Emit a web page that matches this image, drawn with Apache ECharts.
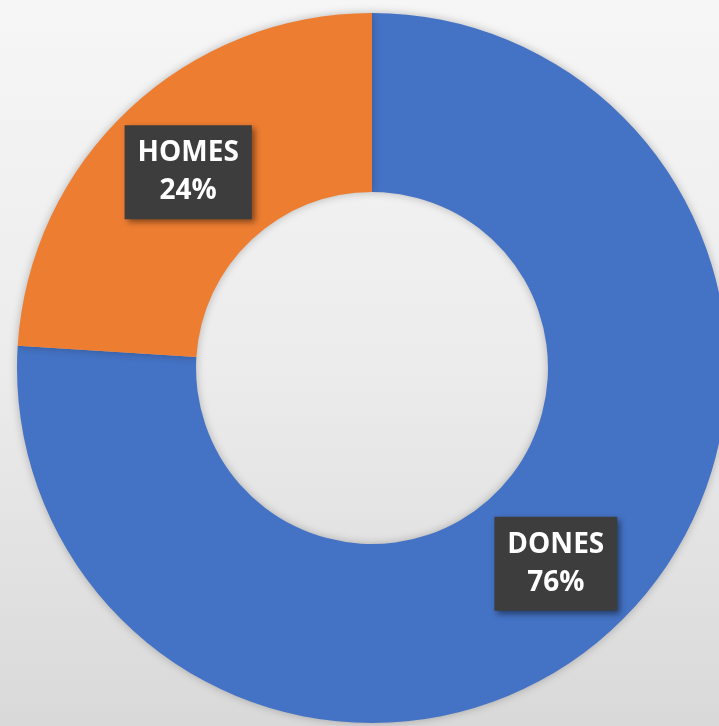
<!DOCTYPE html>
<html>
<head>
<meta charset="utf-8">
<script src="https://cdn.jsdelivr.net/npm/echarts@6/dist/echarts.min.js"></script>
<style>
  html, body { margin: 0; padding: 0; }
  #chart { width: 719px; height: 726px; }
</style>
</head>
<body>
<div id="chart"></div>
<script>
var categories = ['DONES', 'HOMES'];
var values = [76, 24];
var colors = ['#4472C4', '#ED7D31'];

var chart = echarts.init(document.getElementById('chart'));

var option = {
    backgroundColor: {
        type: 'linear', x: 0, y: 0, x2: 0, y2: 1,
        colorStops: [
            { offset: 0, color: '#f6f6f6' },
            { offset: 0.5, color: '#ececec' },
            { offset: 1, color: '#d9d9d9' }
        ]
    },
    color: colors,
    series: [
        {
            type: 'pie',
            center: [372, 368],
            radius: [176, 355],
            startAngle: 90,
            clockwise: true,
            avoidLabelOverlap: false,
            itemStyle: {
                shadowBlur: 8,
                shadowColor: 'rgba(0,0,0,0.25)'
            },
            label: {
                show: true,
                position: 'inside',
                formatter: function (p) {
                    return p.name + '\n' + Math.round(p.percent) + '%';
                },
                color: '#ffffff',
                fontFamily: 'Open Sans',
                fontWeight: 'bold',
                fontSize: 28,
                lineHeight: 38,
                backgroundColor: '#3d3d3d',
                padding: [10, 13, 8, 13],
                shadowBlur: 6,
                shadowOffsetX: 3,
                shadowOffsetY: 3,
                shadowColor: 'rgba(0,0,0,0.45)'
            },
            labelLine: { show: false },
            emphasis: { disabled: true },
            data: categories.map(function (c, i) {
                return { name: c, value: values[i] };
            })
        }
    ]
};

chart.setOption(option);
</script>
</body>
</html>
